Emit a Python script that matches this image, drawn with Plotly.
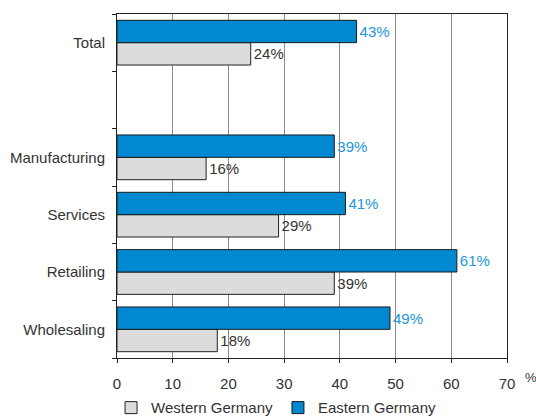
import plotly.graph_objects as go

categories = ["Wholesaling", "Retailing", "Services", "Manufacturing", " ", "Total"]
western = [18, 39, 29, 16, None, 24]
eastern = [49, 61, 41, 39, None, 43]
western_labels = ["18%", "39%", "29%", "16%", "", "24%"]
eastern_labels = ["49%", "61%", "41%", "39%", "", "43%"]
x_ticks = [0, 10, 20, 30, 40, 50, 60, 70]

FONT = "Liberation Sans, Arial, sans-serif"

fig = go.Figure()
fig.add_trace(go.Bar(
    y=categories, x=western, orientation="h", name="Western Germany",
    marker=dict(color="#dcdcdc", line=dict(color="#222222", width=1)),
    text=western_labels, textposition="outside", cliponaxis=False,
    textfont=dict(color="#333333", size=15, family=FONT),
))
fig.add_trace(go.Bar(
    y=categories, x=eastern, orientation="h", name="Eastern Germany",
    marker=dict(color="#0088d1", line=dict(color="#1a1a1a", width=1)),
    text=eastern_labels, textposition="outside", cliponaxis=False,
    textfont=dict(color="#2196dd", size=15, family=FONT),
))

fig.update_layout(
    width=536, height=418,
    margin=dict(l=117, r=29, t=14, b=60, autoexpand=False),
    paper_bgcolor="white", plot_bgcolor="white",
    barmode="group", bargap=0.22, bargroupgap=0,
    font=dict(family=FONT, size=15, color="#333333"),
    showlegend=True,
    legend=dict(orientation="h", xref="container", yref="paper",
                x=0.515, xanchor="center", y=-0.097, yanchor="top",
                bgcolor="rgba(0,0,0,0)",
                font=dict(size=15, color="#333333"), itemwidth=30,
                tracegroupgap=0, traceorder="normal"),
    xaxis=dict(range=[0, 70], tickvals=x_ticks, showgrid=True, gridcolor="#8c8c8c",
               gridwidth=1, showline=True, linecolor="#222222", linewidth=1, mirror=True,
               ticks="outside", ticklen=4, tickcolor="#222222", zeroline=False,
               ticklabelstandoff=8, tickfont=dict(size=15, color="#333333")),
    yaxis=dict(type="category", categoryorder="array", categoryarray=categories,
               range=[-0.5, 5.5], tickson="boundaries", ticks="outside", ticklen=4,
               tickcolor="#222222", showline=True, linecolor="#222222", linewidth=1,
               mirror=True, showgrid=False, ticklabelstandoff=8,
               tickfont=dict(size=15, color="#333333")),
    annotations=[dict(text="%", xref="paper", yref="paper", x=1.041, y=-0.058,
                      xanchor="left", yanchor="middle",
                      showarrow=False, font=dict(size=13, color="#333333"))],
)

fig.write_html("out.html")
